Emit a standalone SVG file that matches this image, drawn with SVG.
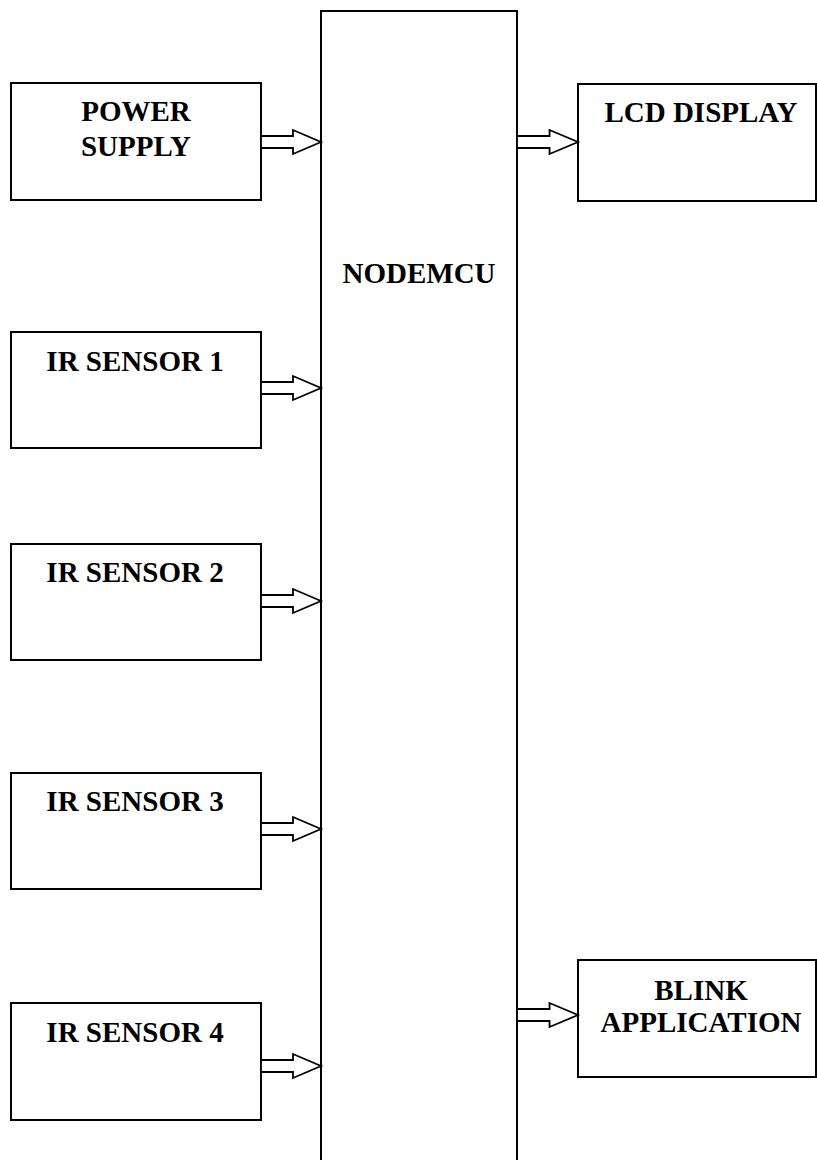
<svg xmlns="http://www.w3.org/2000/svg" width="817" height="1160" viewBox="0 0 817 1160">
<style>
.box{fill:#fff;stroke:#000;stroke-width:2}
.arr{fill:#fff;stroke:#000;stroke-width:1.8;stroke-linejoin:miter}
.t{font-family:"Liberation Serif","Times New Roman",serif;font-weight:bold;font-size:29px;fill:#000;text-anchor:middle}
</style>
<defs>
<path id="ba" d="M0,-6 L32,-6 L32,-12 L60,0 L32,12 L32,6 L0,6 Z"/>
</defs>
<rect width="817" height="1160" fill="#fff"/>
<g id="nodemcu">
<rect class="box" x="321" y="11" width="196" height="1160"/>
<text class="t" x="419" y="283">NODEMCU</text>
</g>
<g id="power-supply">
<rect class="box" x="11" y="83" width="250" height="117"/>
<text class="t" x="136" y="121">POWER</text>
<text class="t" x="136" y="156">SUPPLY</text>
</g>
<g id="ir-sensor-1">
<rect class="box" x="11" y="332" width="250" height="116"/>
<text class="t" x="135" y="371">IR SENSOR 1</text>
</g>
<g id="ir-sensor-2">
<rect class="box" x="11" y="544" width="250" height="116"/>
<text class="t" x="135" y="582">IR SENSOR 2</text>
</g>
<g id="ir-sensor-3">
<rect class="box" x="11" y="773" width="250" height="116"/>
<text class="t" x="135" y="811">IR SENSOR 3</text>
</g>
<g id="ir-sensor-4">
<rect class="box" x="11" y="1003" width="250" height="117"/>
<text class="t" x="135" y="1042">IR SENSOR 4</text>
</g>
<g id="lcd-display">
<rect class="box" x="578" y="84" width="238" height="117"/>
<text class="t" x="701" y="122">LCD DISPLAY</text>
</g>
<g id="blink-application">
<rect class="box" x="578" y="960" width="238" height="117"/>
<text class="t" x="701" y="1000">BLINK</text>
<text class="t" x="701" y="1032">APPLICATION</text>
</g>
<g id="connectors">
<use href="#ba" class="arr" transform="translate(261,142)"/>
<use href="#ba" class="arr" transform="translate(261,388)"/>
<use href="#ba" class="arr" transform="translate(261,601)"/>
<use href="#ba" class="arr" transform="translate(261,829)"/>
<use href="#ba" class="arr" transform="translate(261,1066)"/>
<use href="#ba" class="arr" transform="translate(517,142) scale(1.017,1)"/>
<use href="#ba" class="arr" transform="translate(517,1015) scale(1.017,1)"/>
</g>
</svg>
